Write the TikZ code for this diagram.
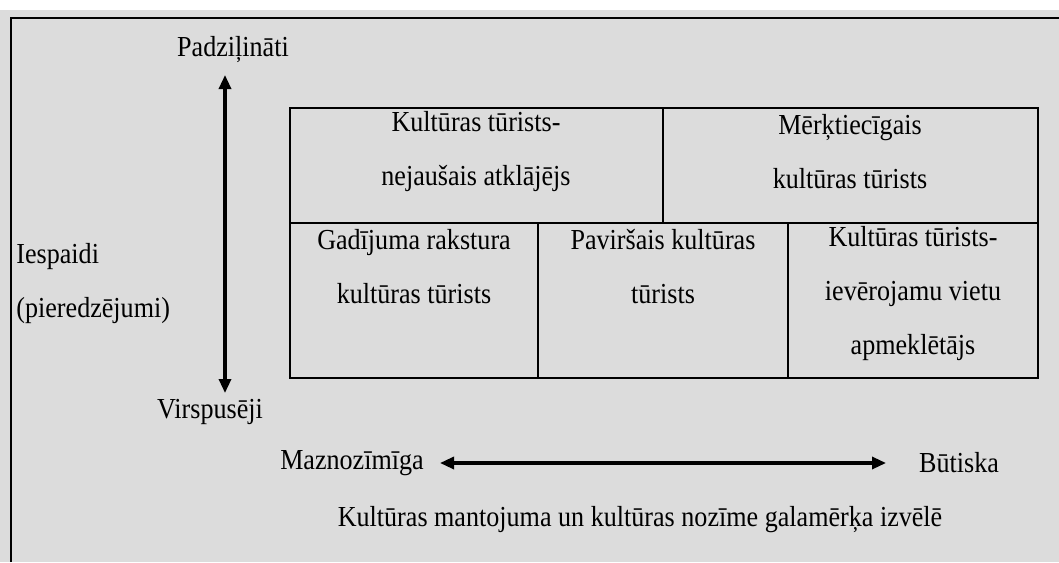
\documentclass[tikz,border=0pt]{standalone}
\usepackage{fontspec}
\setmainfont{Liberation Serif}[FakeStretch=0.9]
\usetikzlibrary{arrows.meta}
\definecolor{bg}{RGB}{220,220,220}
\begin{document}
\begin{tikzpicture}[x=0.5pt,y=-0.5pt,
  lbl/.style={font=\fontsize{14.5}{27}\selectfont, inner sep=0pt, align=center},
  axis/.style={line width=1.6pt, {Triangle[length=7pt,width=6pt]}-{Triangle[length=7pt,width=6pt]}},
  gridline/.style={line width=0.8pt}]
\useasboundingbox (0,0) rectangle (1059,562);
\fill[white] (0,0) rectangle (1059,562);
\fill[bg] (0,10) rectangle (1059,562);
\draw[line width=1pt] (11,562) -- (11,18) -- (1059,18);
% table
\draw[gridline] (290,108) rectangle (1038,378);
\draw[gridline] (290,223) -- (1038,223);
\draw[gridline] (663,108) -- (663,223);
\draw[gridline] (538,223) -- (538,378);
\draw[gridline] (788,223) -- (788,378);
\node[lbl] (tl) at (476,152) {Kultūras tūrists-\\nejaušais atklājējs};
\node[lbl] (tr) at (850,152) {Mērķtiecīgais\\kultūras tūrists};
\node[lbl] (bl) at (414,267) {Gadījuma rakstura\\kultūras tūrists};
\node[lbl] (bm) at (663,267) {Paviršais kultūras\\tūrists};
\node[lbl] (br) at (913,294) {Kultūras tūrists-\\ievērojamu vietu\\apmeklētājs};
% axis labels
\node[lbl] (deep) at (233,50) {Padziļināti};
\node[lbl, align=left, anchor=west] (imp) at (16,284) {Iespaidi\\(pieredzējumi)};
\node[lbl] (surf) at (210,412) {Virspusēji};
\node[lbl] (low) at (352,463) {Maznozīmīga};
\node[lbl] (high) at (959,463) {Būtiska};
\node[lbl] (title) at (640,520) {Kultūras mantojuma un kultūras nozīme galamērķa izvēlē};
% arrows
\coordinate (vtop) at (225,75);
\coordinate (vbot) at (225,393);
\coordinate (hleft) at (440,463);
\coordinate (hright) at (886,463);
\draw[axis] (vtop) -- (vbot);
\draw[axis] (hleft) -- (hright);
\end{tikzpicture}
\end{document}
